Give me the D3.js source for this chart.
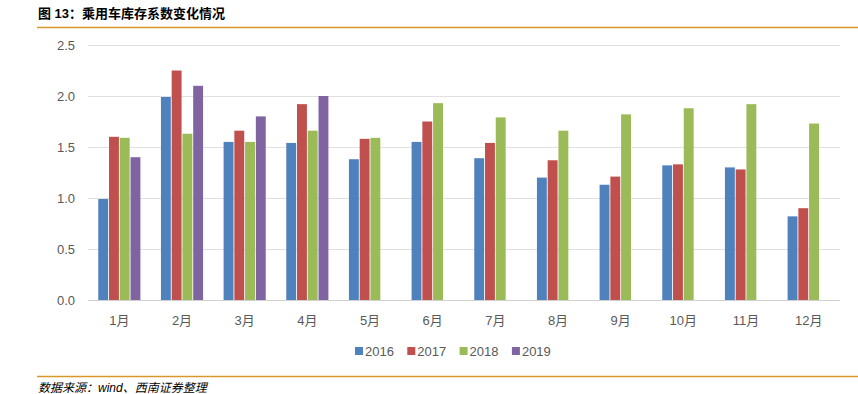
<!DOCTYPE html>
<html>
<head>
<meta charset="utf-8">
<script src="https://cdn.jsdelivr.net/npm/d3@7"></script>
<style>
body { margin: 0; background: #fff; }
svg { font-family: "Liberation Sans", "Noto Sans CJK SC", sans-serif; }
</style>
</head>
<body>
<script>
var months = ["1月", "2月", "3月", "4月", "5月", "6月", "7月", "8月", "9月", "10月", "11月", "12月"];
var years = ["2016", "2017", "2018", "2019"];
var v2016 = [0.99, 1.99, 1.55, 1.54, 1.38, 1.55, 1.39, 1.20, 1.13, 1.32, 1.30, 0.82];
var v2017 = [1.60, 2.25, 1.66, 1.92, 1.58, 1.75, 1.54, 1.37, 1.21, 1.33, 1.28, 0.90];
var v2018 = [1.59, 1.63, 1.55, 1.66, 1.59, 1.93, 1.79, 1.66, 1.82, 1.88, 1.92, 1.73];
var v2019 = [1.40, 2.10, 1.80, 2.00];
var yTicks = [0, 0.5, 1.0, 1.5, 2.0, 2.5];
var colors = ["#4F81BD", "#C0504D", "#9BBB59", "#8064A2"];

var w = 858;
var h = 394;

var series = [v2016, v2017, v2018, v2019];

var svg = d3.select("body")
			.append("svg")
			.attr("width", w)
			.attr("height", h);

//Title and rules
svg.append("text")
	.attr("x", 38)
	.attr("y", 18)
	.attr("font-size", 13)
	.attr("font-weight", "bold")
	.attr("fill", "#000")
	.text("图 13：乘用车库存系数变化情况");

svg.append("line")
	.attr("x1", 37).attr("x2", 858)
	.attr("y1", 27.5).attr("y2", 27.5)
	.attr("stroke", "#D9962B").attr("stroke-width", 1.5);

svg.append("line")
	.attr("x1", 37).attr("x2", 858)
	.attr("y1", 376.5).attr("y2", 376.5)
	.attr("stroke", "#D9962B").attr("stroke-width", 1.5);

svg.append("text")
	.attr("x", 38)
	.attr("y", 392)
	.attr("font-size", 12)
	.attr("font-style", "italic")
	.attr("fill", "#000")
	.text("数据来源：wind、西南证券整理");

//Scales
var x = d3.scaleBand()
	.domain(months)
	.range([88, 840])
	.paddingInner(0.3)
	.paddingOuter(0.15);

var xs = d3.scaleBand()
	.domain(years)
	.range([0, x.bandwidth()])
	.padding(0.08);

var y = d3.scaleLinear()
	.domain([0, 2.5])
	.range([300, 45]);

//Gridlines
svg.append("g")
	.selectAll("line")
	.data(yTicks)
	.enter()
	.append("line")
	.attr("x1", 88).attr("x2", 840)
	.attr("y1", function(d) { return Math.round(y(d)) + 0.5; })
	.attr("y2", function(d) { return Math.round(y(d)) + 0.5; })
	.attr("stroke", function(d) { return d === 0 ? "#D0D0D0" : "#E0E0E0"; })
	.attr("stroke-width", 1);

svg.append("g")
	.selectAll("text")
	.data(yTicks)
	.enter()
	.append("text")
	.attr("x", 75)
	.attr("y", function(d) { return y(d) + 4.5; })
	.attr("text-anchor", "end")
	.attr("font-size", 13)
	.attr("fill", "#595959")
	.text(function(d) { return d.toFixed(1); });

//Bars
var groups = svg.selectAll("g.year")
	.data(series)
	.enter()
	.append("g")
	.attr("class", "year")
	.attr("fill", function(d, i) { return colors[i]; });

groups.selectAll("rect")
	.data(function(d, i) {
		return d.map(function(v, j) { return {month: months[j], year: years[i], value: v}; });
	})
	.enter()
	.append("rect")
	.attr("x", function(d) { return x(d.month) + xs(d.year); })
	.attr("y", function(d) { return y(d.value); })
	.attr("width", xs.bandwidth())
	.attr("height", function(d) { return y(0) - y(d.value); });

//Month labels
svg.append("g")
	.selectAll("text")
	.data(months)
	.enter()
	.append("text")
	.attr("x", function(d) { return x(d) + x.bandwidth() / 2; })
	.attr("y", 325)
	.attr("text-anchor", "middle")
	.attr("font-size", 13)
	.attr("fill", "#595959")
	.text(function(d) { return d; });

//Legend
var legend = svg.append("g")
	.selectAll("g")
	.data(years)
	.enter()
	.append("g")
	.attr("transform", function(d, i) { return "translate(" + (355 + i * 52.3) + ",352)"; });

legend.append("rect")
	.attr("x", 0).attr("y", -5)
	.attr("width", 8).attr("height", 8)
	.attr("fill", function(d, i) { return colors[i]; });

legend.append("text")
	.attr("x", 10)
	.attr("y", 4)
	.attr("font-size", 13)
	.attr("fill", "#595959")
	.text(function(d) { return d; });
</script>
</body>
</html>
